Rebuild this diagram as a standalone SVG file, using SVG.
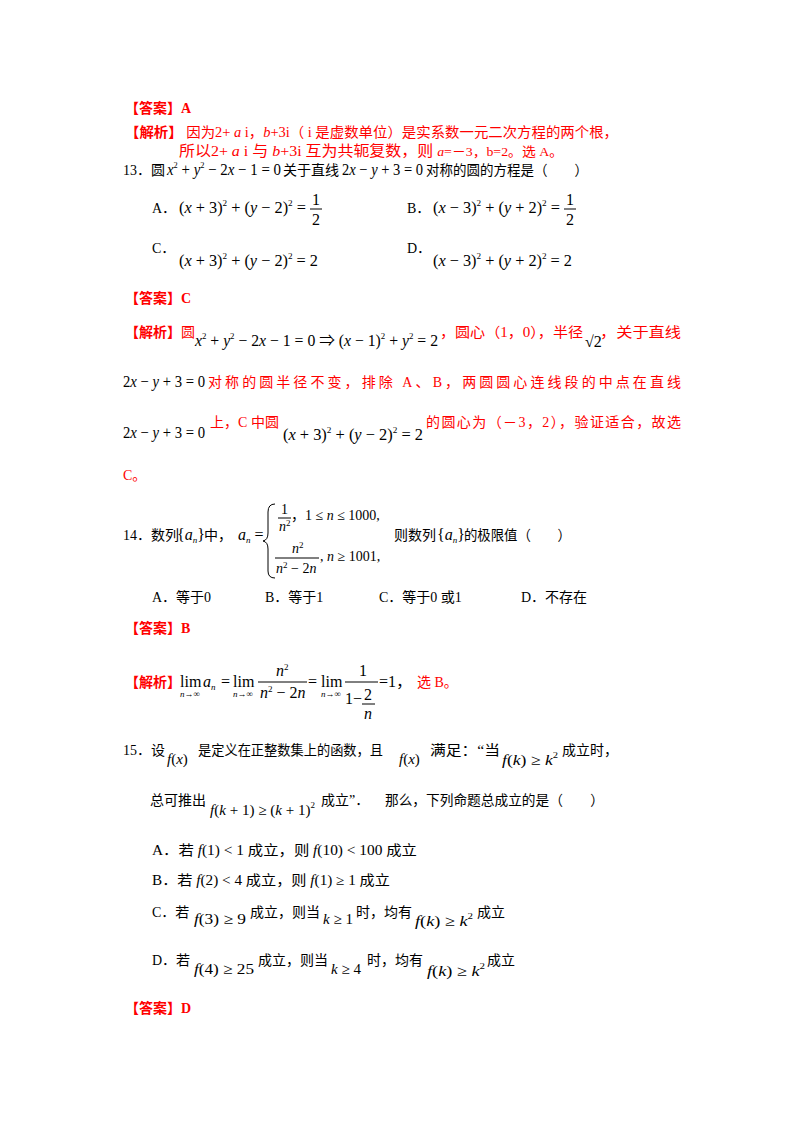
<svg xmlns="http://www.w3.org/2000/svg" width="800" height="1132" viewBox="0 0 800 1132">
<style>
text{font-family:"Liberation Serif","Noto Sans CJK SC",serif;font-size:14px;fill:#000}
.r{fill:#f00}
.b{font-weight:bold}
.i{font-style:italic}
.n{font-style:normal}
.s{font-size:9px}
.m{font-size:16px}
.f{font-size:15px}
line,path{stroke:#000;stroke-width:1;fill:none}
</style>
<rect width="800" height="1132" fill="#fff"/>
<g id="q12ans">
<text x="125" y="113" class="r b">【答案】A</text>
<text x="125" y="137" class="r" textLength="493" lengthAdjust="spacingAndGlyphs"><tspan class="b">【解析】</tspan> 因为2+ <tspan class="i">a</tspan> i，<tspan class="i">b</tspan>+3i（ i 是虚数单位）是实系数一元二次方程的两个根，</text>
<text x="179" y="156" class="r" style="font-size:15px" textLength="384" lengthAdjust="spacingAndGlyphs">所以2+ <tspan class="i">a</tspan> i 与 <tspan class="i">b</tspan>+3i 互为共轭复数，则 <tspan class="i" style="font-size:13px">a</tspan><tspan style="font-size:13px">=－3，b=2。选 A。</tspan></text>
</g>
<g id="q13">
<text x="123" y="175">13．圆</text>
<text x="167" y="175" class="m" textLength="114" lengthAdjust="spacingAndGlyphs"><tspan class="i">x</tspan><tspan class="s" dy="-7">2</tspan><tspan dy="7"> + </tspan><tspan class="i">y</tspan><tspan class="s" dy="-7">2</tspan><tspan dy="7"> − 2</tspan><tspan class="i">x</tspan> − 1 = 0</text>
<text x="283" y="175">关于直线</text>
<text x="342" y="175" class="m" textLength="81" lengthAdjust="spacingAndGlyphs">2<tspan class="i">x</tspan> − <tspan class="i">y</tspan> + 3 = 0</text>
<text x="426" y="175" textLength="162" lengthAdjust="spacingAndGlyphs">对称的圆的方程是（　　）</text>
<text x="152" y="213">A．</text>
<text x="179" y="213" class="m" textLength="127" lengthAdjust="spacingAndGlyphs">(<tspan class="i">x</tspan> + 3)<tspan class="s" dy="-7">2</tspan><tspan dy="7"> + (</tspan><tspan class="i">y</tspan> − 2)<tspan class="s" dy="-7">2</tspan><tspan dy="7"> =</tspan></text>
<text x="312" y="205" class="m">1</text><line x1="310" y1="209" x2="322" y2="209"/><text x="312" y="225" class="m">2</text>
<text x="407" y="213">B．</text>
<text x="433" y="213" class="m" textLength="127" lengthAdjust="spacingAndGlyphs">(<tspan class="i">x</tspan> − 3)<tspan class="s" dy="-7">2</tspan><tspan dy="7"> + (</tspan><tspan class="i">y</tspan> + 2)<tspan class="s" dy="-7">2</tspan><tspan dy="7"> =</tspan></text>
<text x="566" y="205" class="m">1</text><line x1="564" y1="209" x2="576" y2="209"/><text x="566" y="225" class="m">2</text>
<text x="152" y="253">C．</text>
<text x="179" y="266" class="m" textLength="139" lengthAdjust="spacingAndGlyphs">(<tspan class="i">x</tspan> + 3)<tspan class="s" dy="-7">2</tspan><tspan dy="7"> + (</tspan><tspan class="i">y</tspan> − 2)<tspan class="s" dy="-7">2</tspan><tspan dy="7"> = 2</tspan></text>
<text x="407" y="253">D．</text>
<text x="433" y="266" class="m" textLength="139" lengthAdjust="spacingAndGlyphs">(<tspan class="i">x</tspan> − 3)<tspan class="s" dy="-7">2</tspan><tspan dy="7"> + (</tspan><tspan class="i">y</tspan> + 2)<tspan class="s" dy="-7">2</tspan><tspan dy="7"> = 2</tspan></text>
</g>
<g id="q13ans">
<text x="125" y="303" class="r b">【答案】C</text>
<text x="125" y="337" class="r"><tspan class="b">【解析】</tspan>圆</text>
<text x="195" y="346" class="m" textLength="243" lengthAdjust="spacingAndGlyphs"><tspan class="i">x</tspan><tspan class="s" dy="-7">2</tspan><tspan dy="7"> + </tspan><tspan class="i">y</tspan><tspan class="s" dy="-7">2</tspan><tspan dy="7"> − 2</tspan><tspan class="i">x</tspan> − 1 = 0 ⇒ (<tspan class="i">x</tspan> − 1)<tspan class="s" dy="-7">2</tspan><tspan dy="7"> + </tspan><tspan class="i">y</tspan><tspan class="s" dy="-7">2</tspan><tspan dy="7"> = 2</tspan></text>
<text x="440" y="337" class="r" textLength="143" lengthAdjust="spacingAndGlyphs">，圆心（1，0），半径</text>
<text x="585" y="347" class="m">√2</text>
<text x="600" y="337" class="r" textLength="81" lengthAdjust="spacingAndGlyphs">，关于直线</text>
<text x="123" y="387" class="m" textLength="82" lengthAdjust="spacingAndGlyphs">2<tspan class="i">x</tspan> − <tspan class="i">y</tspan> + 3 = 0</text>
<text x="208" y="387" class="r" textLength="473" lengthAdjust="spacing">对称的圆半径不变，排除 A、B，两圆圆心连线段的中点在直线</text>
<text x="123" y="438" class="m" textLength="82" lengthAdjust="spacingAndGlyphs">2<tspan class="i">x</tspan> − <tspan class="i">y</tspan> + 3 = 0</text>
<text x="210" y="427" class="r" textLength="69" lengthAdjust="spacing">上，C 中圆</text>
<text x="283" y="440" class="m" textLength="140" lengthAdjust="spacingAndGlyphs">(<tspan class="i">x</tspan> + 3)<tspan class="s" dy="-7">2</tspan><tspan dy="7"> + (</tspan><tspan class="i">y</tspan> − 2)<tspan class="s" dy="-7">2</tspan><tspan dy="7"> = 2</tspan></text>
<text x="426" y="427" class="r" textLength="255" lengthAdjust="spacing">的圆心为（－3，2），验证适合，故选</text>
<text x="123" y="480" class="r">C。</text>
</g>
<g id="q14">
<text x="123" y="540">14．数列</text>
<text x="177" y="540" class="m">{<tspan class="i">a</tspan><tspan class="s i" dy="3">n</tspan><tspan dy="-3">}</tspan></text>
<text x="204" y="540">中，</text>
<text x="238" y="540" class="m"><tspan class="i">a</tspan><tspan class="s i" dy="3">n</tspan><tspan dy="-3"> =</tspan></text>
<path d="M275,504 Q268,504 268,512 L268,533 Q268,540 263,541 Q268,542 268,549 L268,571 Q268,578 275,578"/>
<text x="281" y="514">1</text><line x1="278" y1="518" x2="291" y2="518"/><text x="279" y="531" class="i">n<tspan class="s n" dy="-5">2</tspan></text>
<text x="291" y="520">，1 ≤ <tspan class="i">n</tspan> ≤ 1000,</text>
<text x="292" y="553" class="i">n<tspan class="s n" dy="-5">2</tspan></text>
<line x1="275" y1="558" x2="319" y2="558"/>
<text x="276" y="573" class="i">n<tspan class="s n" dy="-5">2</tspan><tspan dy="5" class="n"> − 2</tspan>n</text>
<text x="320" y="561">, <tspan class="i">n</tspan> ≥ 1001,</text>
<text x="394" y="540">则数列</text>
<text x="437" y="540" class="m">{<tspan class="i">a</tspan><tspan class="s i" dy="3">n</tspan><tspan dy="-3">}</tspan></text>
<text x="464" y="540" textLength="107" lengthAdjust="spacingAndGlyphs">的极限值（　　）</text>
<text x="152" y="602">A．等于0</text>
<text x="265" y="602">B．等于1</text>
<text x="379" y="602">C．等于0 或1</text>
<text x="521" y="602">D．不存在</text>
</g>
<g id="q14ans">
<text x="125" y="633" class="r b">【答案】B</text>
<text x="125" y="687" class="r b">【解析】</text>
<text x="180" y="687" class="m">lim</text><text x="180" y="697" class="s i">n→∞</text>
<text x="203" y="687" class="m i">a<tspan class="s" dy="3">n</tspan></text>
<text x="221" y="687" class="m">=</text>
<text x="233" y="687" class="m">lim</text><text x="233" y="697" class="s i">n→∞</text>
<text x="276" y="676" class="m i">n<tspan class="s n" dy="-6">2</tspan></text>
<line x1="258" y1="682" x2="307" y2="682"/>
<text x="260" y="698" class="m i">n<tspan class="s n" dy="-6">2</tspan><tspan dy="6" class="n"> − 2</tspan>n</text>
<text x="308" y="687" class="m">=</text>
<text x="321" y="687" class="m">lim</text><text x="321" y="697" class="s i">n→∞</text>
<text x="359" y="676" class="m">1</text>
<line x1="345" y1="682" x2="378" y2="682"/>
<text x="345" y="704" class="m">1−</text>
<text x="364" y="700" class="m">2</text><line x1="362" y1="704" x2="375" y2="704"/><text x="364" y="719" class="m i">n</text>
<text x="379" y="687" class="m">=1，</text>
<text x="417" y="687" class="r">选 B。</text>
</g>
<g id="q15">
<text x="123" y="755">15．设</text>
<text x="167" y="764" class="i f">f<tspan class="n">(</tspan>x<tspan class="n">)</tspan></text>
<text x="198" y="755" textLength="185" lengthAdjust="spacingAndGlyphs">是定义在正整数集上的函数，且</text>
<text x="399" y="764" class="i f">f<tspan class="n">(</tspan>x<tspan class="n">)</tspan></text>
<text x="430" y="755" textLength="70" lengthAdjust="spacingAndGlyphs">满足：“当</text>
<text x="502" y="765" class="i f" textLength="56" lengthAdjust="spacingAndGlyphs">f<tspan class="n">(</tspan>k<tspan class="n">) ≥ </tspan>k<tspan class="s n" dy="-7">2</tspan></text>
<text x="562" y="755">成立时，</text>
<text x="150" y="805">总可推出</text>
<text x="210" y="815" class="i f" textLength="105" lengthAdjust="spacingAndGlyphs">f<tspan class="n">(</tspan>k<tspan class="n"> + 1) ≥ (</tspan>k<tspan class="n"> + 1)</tspan><tspan class="s n" dy="-7">2</tspan></text>
<text x="321" y="805">成立”．</text>
<text x="385" y="805" textLength="219" lengthAdjust="spacingAndGlyphs">那么，下列命题总成立的是（　　）</text>
<text x="152" y="855" textLength="265" lengthAdjust="spacingAndGlyphs">A．若 <tspan class="i">f</tspan>(1) &lt; 1 成立，则 <tspan class="i">f</tspan>(10) &lt; 100 成立</text>
<text x="152" y="885" textLength="238" lengthAdjust="spacingAndGlyphs">B．若 <tspan class="i">f</tspan>(2) &lt; 4 成立，则 <tspan class="i">f</tspan>(1) ≥ 1 成立</text>
<text x="152" y="917">C．若</text>
<text x="194" y="924" class="f" textLength="52" lengthAdjust="spacingAndGlyphs"><tspan class="i">f</tspan>(3) ≥ 9</text>
<text x="250" y="917">成立，则当</text>
<text x="323" y="924" class="f"><tspan class="i">k</tspan> ≥ 1</text>
<text x="356" y="917">时，均有</text>
<text x="415" y="926" class="f" textLength="58" lengthAdjust="spacingAndGlyphs"><tspan class="i">f</tspan>(<tspan class="i">k</tspan>) ≥ <tspan class="i">k</tspan><tspan class="s" dy="-7">2</tspan></text>
<text x="477" y="917">成立</text>
<text x="152" y="965">D．若</text>
<text x="194" y="974" class="f" textLength="60" lengthAdjust="spacingAndGlyphs"><tspan class="i">f</tspan>(4) ≥ 25</text>
<text x="258" y="965">成立，则当</text>
<text x="331" y="974" class="f"><tspan class="i">k</tspan> ≥ 4</text>
<text x="367" y="965">时，均有</text>
<text x="427" y="976" class="f" textLength="58" lengthAdjust="spacingAndGlyphs"><tspan class="i">f</tspan>(<tspan class="i">k</tspan>) ≥ <tspan class="i">k</tspan><tspan class="s" dy="-7">2</tspan></text>
<text x="487" y="965">成立</text>
<text x="125" y="1013" class="r b">【答案】D</text>
</g>
</svg>
